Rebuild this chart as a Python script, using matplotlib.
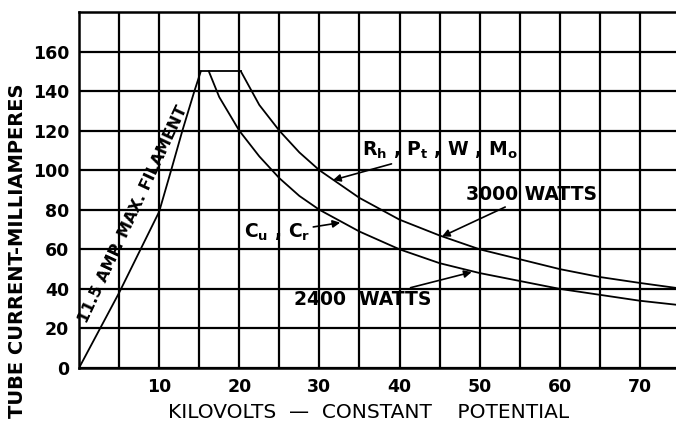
import matplotlib
matplotlib.use("Agg")
import matplotlib.pyplot as plt

# curves (kilovolts, milliamperes)
fil_kv = [0, 5, 10, 11.5, 12.9, 14.4, 15.2]
fil_ma = [0, 38, 79, 100, 120, 140, 150]

flat_kv = [15.2, 20.2]
flat_ma = [150, 150]

w2400_kv = [16.2, 17.5, 20, 22.5, 25, 27.5, 30, 35, 40, 45, 50, 55, 60, 65, 70, 74.5]
w2400_ma = [150, 137, 120, 107, 96, 87, 80, 69, 60, 53, 48, 44, 40, 37, 34, 32]

w3000_kv = [20.2, 22.5, 25, 27.5, 30, 35, 40, 45, 50, 55, 60, 65, 70, 74.5]
w3000_ma = [150, 133, 120, 109, 100, 86, 75, 67, 60, 55, 50, 46, 43, 40.5]

x_ticks = [10, 20, 30, 40, 50, 60, 70]
x_minor = [5, 15, 25, 35, 45, 55, 65]
y_ticks = [0, 20, 40, 60, 80, 100, 120, 140, 160]

INK = "black"

fig = plt.figure(figsize=(6.76, 4.38), dpi=100)
ax = fig.add_axes([79 / 676, 1 - 368 / 438, 1 - 79 / 676, (368 - 12) / 438])

ax.set_xlim(0, 74.5)
ax.set_ylim(0, 180)

ax.set_xticks(x_ticks)
ax.set_xticks(x_minor, minor=True)
ax.set_yticks(y_ticks)
ax.grid(True, which="both", color=INK, lw=1.6)
ax.tick_params(which="both", length=0)
ax.tick_params(axis="x", pad=7)
ax.tick_params(axis="y", pad=7)
for lab in ax.get_xticklabels() + ax.get_yticklabels():
    lab.set_fontsize(12.5)
    lab.set_fontweight("bold")

for side in ["top", "left", "bottom"]:
    ax.spines[side].set_linewidth(1.8)
ax.spines["right"].set_visible(False)

# curves
ax.plot(fil_kv, fil_ma, color=INK, lw=1.3)
ax.plot(flat_kv, flat_ma, color=INK, lw=1.3)
ax.plot(w2400_kv, w2400_ma, color=INK, lw=1.3)
ax.plot(w3000_kv, w3000_ma, color=INK, lw=1.3)

# labels
ax.text(6.7, 77.5, "11.5 AMP. MAX. FILAMENT", rotation=65, rotation_mode="anchor",
        ha="center", va="center", fontsize=11.5, fontweight="bold")

arrow = dict(arrowstyle="-|>", color=INK, lw=1.2, mutation_scale=11, shrinkA=0, shrinkB=0)

ax.annotate(r"R$_\mathregular{h}$ , P$_\mathregular{t}$ , W , M$_\mathregular{o}$",
            xy=(31.7, 95), xytext=(35.3, 110), ha="left", va="center",
            fontsize=13.5, fontweight="bold", arrowprops=arrow)
ax.annotate("3000 WATTS", xy=(45.3, 66.5), xytext=(48.3, 87.6), ha="left", va="center",
            fontsize=13.5, fontweight="bold", arrowprops=arrow)
ax.annotate(r"C$_\mathregular{u}$ , C$_\mathregular{r}$",
            xy=(32.6, 73.5), xytext=(20.6, 68.4), ha="left", va="center",
            fontsize=13.5, fontweight="bold", arrowprops=arrow)
ax.annotate("2400  WATTS", xy=(49.0, 48.5), xytext=(26.8, 34.4), ha="left", va="center",
            fontsize=13.5, fontweight="bold", arrowprops=arrow)

fig.text(369 / 676, 1 - 413 / 438, "KILOVOLTS  \u2014  CONSTANT    POTENTIAL",
         ha="center", va="center", fontsize=14.5)
fig.text(18 / 676, 1 - 251 / 438, "TUBE CURRENT-MILLIAMPERES", rotation=90,
         ha="center", va="center", fontsize=14, fontweight="bold")

fig.savefig("out.png", dpi=100)
